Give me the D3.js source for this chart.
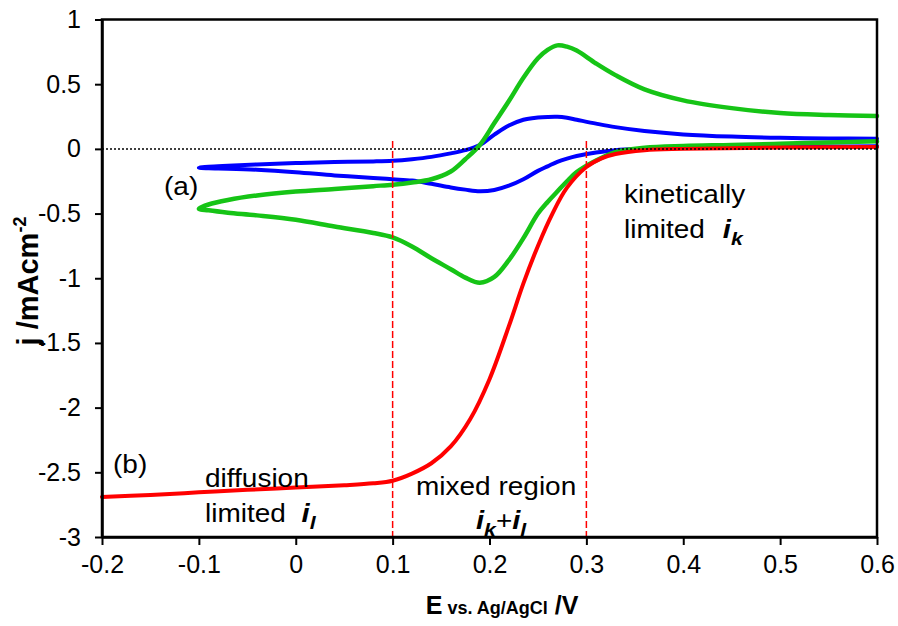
<!DOCTYPE html>
<html>
<head>
<meta charset="utf-8">
<script src="https://cdn.jsdelivr.net/npm/d3@7/dist/d3.min.js"></script>
<style>
  html, body { margin: 0; padding: 0; background: #fff; }
  svg { display: block; font-family: "Liberation Sans", Arial, sans-serif; }
</style>
</head>
<body>
<svg id="chart" width="898" height="626"></svg>
<script>
// Potential grid (V vs. Ag/AgCl) shared by both CV branches
const cvPotential = [-0.1, -0.09, -0.07, -0.04, 0, 0.04, 0.08, 0.1, 0.12, 0.14, 0.16, 0.175, 0.19,
  0.205, 0.22, 0.235, 0.25, 0.26, 0.27, 0.28, 0.29, 0.31, 0.33, 0.36, 0.4, 0.45, 0.5, 0.55, 0.6];

// (a) cyclic voltammograms, current density (mA cm^-2)
const greenAnodic = [-0.463, -0.43, -0.395, -0.36, -0.33, -0.31, -0.288, -0.277, -0.26, -0.235, -0.175, -0.08, 0.03,
  0.2, 0.37, 0.55, 0.7, 0.765, 0.8, 0.79, 0.76, 0.66, 0.57, 0.46, 0.375, 0.315, 0.277, 0.262, 0.254];
const greenCathodic = [-0.463, -0.475, -0.493, -0.514, -0.548, -0.6, -0.65, -0.685, -0.755, -0.845, -0.93, -0.995, -1.035,
  -0.99, -0.86, -0.69, -0.5, -0.41, -0.33, -0.25, -0.18, -0.09, -0.025, 0.008, 0.022, 0.03, 0.04, 0.05, 0.058];
const blueAnodic = [-0.146, -0.138, -0.13, -0.12, -0.11, -0.102, -0.097, -0.092, -0.08, -0.062, -0.035, -0.01, 0.03,
  0.11, 0.18, 0.225, 0.242, 0.247, 0.248, 0.24, 0.225, 0.195, 0.168, 0.138, 0.112, 0.095, 0.086, 0.081, 0.079];
const blueCathodic = [-0.146, -0.15, -0.153, -0.161, -0.18, -0.205, -0.225, -0.235, -0.245, -0.27, -0.298, -0.315, -0.328,
  -0.318, -0.285, -0.235, -0.17, -0.135, -0.1, -0.075, -0.055, -0.028, -0.01, 0.0, 0.008, 0.012, 0.015, 0.018, 0.02];

// (b) steady-state polarisation curve
const lsvPotential = [-0.2, -0.15, -0.1, -0.05, 0, 0.05, 0.08, 0.1, 0.12, 0.14, 0.16, 0.18, 0.2, 0.22, 0.235,
  0.25, 0.265, 0.28, 0.3, 0.315, 0.33, 0.36, 0.4, 0.5, 0.6];
const lsvCurrent = [-2.69, -2.675, -2.655, -2.635, -2.618, -2.6, -2.585, -2.565, -2.51, -2.43, -2.3, -2.09, -1.78,
  -1.37, -1.04, -0.75, -0.5, -0.3, -0.14, -0.075, -0.04, -0.01, 0.0, 0.01, 0.015];

// Region boundaries
const regionBounds = [0.1, 0.3];

// Axis ticks
const xTicks = [-0.2, -0.1, 0, 0.1, 0.2, 0.3, 0.4, 0.5, 0.6];
const yTicks = [1, 0.5, 0, -0.5, -1, -1.5, -2, -2.5, -3];

const margin = { left: 102, right: 21, top: 19.5, bottom: 89 };
const W = 898, H = 626;
const svg = d3.select("#chart");

const x = d3.scaleLinear().domain([-0.2, 0.6]).range([margin.left, W - margin.right]);
const y = d3.scaleLinear().domain([-3, 1]).range([H - margin.bottom, margin.top]);

const fmt = d => (d === 0 ? "0" : String(+d.toFixed(1)));

// Curves
const line = d3.line()
  .x(d => x(d[0]))
  .y(d => y(d[1]))
  .curve(d3.curveCatmullRom.alpha(0.5));

function cvLoop(cathodic, anodic) {
  // scan from the positive limit down to -0.1 V and back up
  const down = cvPotential.map((e, i) => [e, cathodic[i]]).reverse();
  const up = cvPotential.map((e, i) => [e, anodic[i]]).slice(1);
  return down.concat(up);
}

const curves = svg.append("g").attr("fill", "none")
  .attr("stroke-linejoin", "round").attr("stroke-linecap", "round");

curves.append("path")
  .attr("d", line(cvLoop(blueCathodic, blueAnodic)))
  .attr("stroke", "#0000ff").attr("stroke-width", 4);

curves.append("path")
  .attr("d", line(cvLoop(greenCathodic, greenAnodic)))
  .attr("stroke", "#16c416").attr("stroke-width", 4.5);

curves.append("path")
  .attr("d", line(lsvPotential.map((e, i) => [e, lsvCurrent[i]])))
  .attr("stroke", "#ff0000").attr("stroke-width", 4);

// Zero-current reference
svg.append("line")
  .attr("x1", x(-0.2)).attr("x2", x(0.6))
  .attr("y1", y(0)).attr("y2", y(0))
  .attr("stroke", "#000").attr("stroke-width", 1.5)
  .attr("stroke-dasharray", "2,2");

// Region separators
svg.append("g").selectAll("line").data(regionBounds).join("line")
  .attr("x1", d => x(d)).attr("x2", d => x(d))
  .attr("y1", y(0.06)).attr("y2", y(-3))
  .attr("stroke", "#ff0000").attr("stroke-width", 1.5)
  .attr("stroke-dasharray", "7,3");

// Frame
svg.append("rect")
  .attr("x", x(-0.2)).attr("y", y(1))
  .attr("width", x(0.6) - x(-0.2)).attr("height", y(-3) - y(1))
  .attr("fill", "none").attr("stroke", "#000").attr("stroke-width", 2.5);

// Axes
const xAxis = svg.append("g")
  .attr("transform", `translate(0,${y(-3)})`)
  .call(d3.axisBottom(x).tickValues(xTicks).tickFormat(fmt).tickSize(8).tickSizeOuter(0).tickPadding(10));
const yAxis = svg.append("g")
  .attr("transform", `translate(${x(-0.2)},0)`)
  .call(d3.axisLeft(y).tickValues(yTicks).tickFormat(fmt).tickSize(7).tickSizeOuter(0).tickPadding(14));

[xAxis, yAxis].forEach(g => {
  g.select(".domain").attr("stroke", "#000").attr("stroke-width", 2.5);
  g.selectAll(".tick line").attr("stroke", "#000").attr("stroke-width", 2);
  g.selectAll(".tick text")
    .attr("fill", "#000")
    .style("font-family", '"Liberation Sans", Arial, sans-serif')
    .style("font-size", "25px");
});

// Axis titles
const xt = svg.append("text")
  .attr("x", 502).attr("y", 614)
  .attr("text-anchor", "middle")
  .attr("font-weight", "bold")
  .attr("fill", "#000");
xt.append("tspan").attr("font-size", 25).text("E");
xt.append("tspan").attr("font-size", 18).text(" vs. Ag/AgCl");
xt.append("tspan").attr("font-size", 25).text(" /V");

const yt = svg.append("text")
  .attr("transform", "translate(38,281) rotate(-90)")
  .attr("text-anchor", "middle")
  .attr("font-weight", "bold")
  .attr("fill", "#000");
yt.append("tspan").attr("font-size", 29).text("j /mAcm");
yt.append("tspan").attr("font-size", 18).attr("dy", -12).text("-2");

// Annotations: each entry is a list of [text, style, gap] runs
function note(px, py, runs) {
  const t = svg.append("text")
    .attr("transform", `translate(${px},${py}) scale(1.12,1)`)
    .attr("font-size", 25)
    .attr("fill", "#000");
  let shift = 0;
  runs.forEach(([str, style, gap]) => {
    const s = t.append("tspan").text(str);
    if (gap) s.attr("dx", gap);
    if (style === "i" || style === "sub") {
      s.attr("font-weight", "bold").attr("font-style", "italic");
    }
    if (style === "i") s.attr("font-size", 26);
    const target = style === "sub" ? 7 : 0;
    if (target !== shift) { s.attr("dy", target - shift); shift = target; }
    if (style === "sub") s.attr("font-size", 19);
  });
}

note(164, 195, [["(a)"]]);
note(113, 473, [["(b)"]]);
note(205, 487, [["diffusion"]]);
note(205, 522, [["limited"], ["i", "i", 14], ["l", "sub"]]);
note(416, 495, [["mixed region"]]);
note(476, 529, [["i", "i"], ["k", "sub"], ["+", "plus"], ["i", "i"], ["l", "sub"]]);
note(624, 203, [["kinetically"]]);
note(624, 238, [["limited"], ["i", "i", 16], ["k", "sub"]]);
</script>
</body>
</html>
